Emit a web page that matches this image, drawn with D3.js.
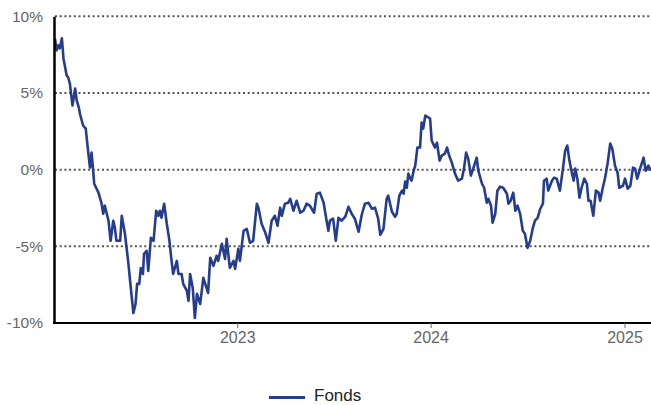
<!DOCTYPE html>
<html lang="de">
<head>
<meta charset="utf-8">
<title>Fonds</title>
<script src="https://cdn.jsdelivr.net/npm/d3@7"></script>
<style>
  html, body { margin: 0; padding: 0; background: #fff; }
  #graph { width: 651px; height: 405px; }
  svg { display: block; }
</style>
</head>
<body>
<div id="graph"></div>
<script>
// performance of the fund in %
const dates = [
  '2022-01-22', '2022-01-25', '2022-01-28', '2022-01-31', '2022-02-04', '2022-02-07', '2022-02-13', '2022-02-16', '2022-02-19', '2022-02-24',
  '2022-03-01', '2022-03-04', '2022-03-08', '2022-03-10', '2022-03-16', '2022-03-21', '2022-03-26', '2022-03-29', '2022-04-01', '2022-04-04',
  '2022-04-06', '2022-04-14', '2022-04-20', '2022-04-23', '2022-04-26', '2022-05-03', '2022-05-07', '2022-05-12', '2022-05-15', '2022-05-18',
  '2022-05-25', '2022-05-28', '2022-06-03', '2022-06-09', '2022-06-16', '2022-06-19', '2022-06-23', '2022-06-26', '2022-06-30', '2022-07-03',
  '2022-07-07', '2022-07-09', '2022-07-14', '2022-07-17', '2022-07-22', '2022-07-27', '2022-08-01', '2022-08-05', '2022-08-08', '2022-08-11',
  '2022-08-16', '2022-08-21', '2022-08-26', '2022-08-30', '2022-09-02', '2022-09-09', '2022-09-12', '2022-09-18', '2022-09-21', '2022-09-28',
  '2022-10-01', '2022-10-04', '2022-10-09', '2022-10-13', '2022-10-17', '2022-10-23', '2022-10-29', '2022-11-07', '2022-11-11', '2022-11-17',
  '2022-11-23', '2022-11-26', '2022-12-03', '2022-12-09', '2022-12-12', '2022-12-18', '2022-12-25', '2022-12-28',
  '2023-01-03', '2023-01-06', '2023-01-13', '2023-01-19', '2023-01-25', '2023-01-31', '2023-02-07', '2023-02-10', '2023-02-16', '2023-02-23',
  '2023-03-01', '2023-03-07', '2023-03-13', '2023-03-18', '2023-03-23', '2023-03-26', '2023-04-01', '2023-04-07', '2023-04-11', '2023-04-17',
  '2023-04-23', '2023-04-30', '2023-05-06', '2023-05-12', '2023-05-18', '2023-05-26', '2023-05-31', '2023-06-06', '2023-06-13', '2023-06-19',
  '2023-06-22', '2023-06-25', '2023-07-01', '2023-07-06', '2023-07-11', '2023-07-17', '2023-07-24', '2023-07-30', '2023-08-05', '2023-08-11',
  '2023-08-18', '2023-08-24', '2023-08-30', '2023-09-06', '2023-09-12', '2023-09-18', '2023-09-24', '2023-09-28', '2023-10-04', '2023-10-10',
  '2023-10-13', '2023-10-20', '2023-10-26', '2023-10-29', '2023-11-03', '2023-11-08', '2023-11-11', '2023-11-14', '2023-11-17', '2023-11-20',
  '2023-11-23', '2023-11-26', '2023-11-30', '2023-12-03', '2023-12-07', '2023-12-12', '2023-12-15', '2023-12-18', '2023-12-22', '2023-12-28',
  '2023-12-31',
  '2024-01-03', '2024-01-09', '2024-01-13', '2024-01-18', '2024-01-22', '2024-01-28', '2024-02-01', '2024-02-05', '2024-02-10', '2024-02-16',
  '2024-02-22', '2024-02-29', '2024-03-04', '2024-03-08', '2024-03-12', '2024-03-17', '2024-03-22', '2024-03-28', '2024-03-31', '2024-04-07',
  '2024-04-11', '2024-04-16', '2024-04-19', '2024-04-24', '2024-04-27', '2024-05-02', '2024-05-06', '2024-05-11', '2024-05-17', '2024-05-24',
  '2024-05-27', '2024-05-31', '2024-06-05', '2024-06-09', '2024-06-13', '2024-06-18', '2024-06-23', '2024-06-27', '2024-07-02', '2024-07-07',
  '2024-07-12', '2024-07-16', '2024-07-21', '2024-07-26', '2024-07-31', '2024-08-02', '2024-08-07', '2024-08-10', '2024-08-17', '2024-08-21',
  '2024-08-26', '2024-09-01', '2024-09-07', '2024-09-11', '2024-09-15', '2024-09-19', '2024-09-24', '2024-09-27', '2024-09-30', '2024-10-04',
  '2024-10-08', '2024-10-12', '2024-10-17', '2024-10-22', '2024-10-25', '2024-10-29', '2024-11-03', '2024-11-08', '2024-11-13', '2024-11-16',
  '2024-11-21', '2024-11-25', '2024-11-30', '2024-12-05', '2024-12-09', '2024-12-14', '2024-12-19', '2024-12-22', '2024-12-29',
  '2025-01-02', '2025-01-07', '2025-01-12', '2025-01-17', '2025-01-21', '2025-01-25', '2025-01-31', '2025-02-06', '2025-02-10', '2025-02-15',
  '2025-02-20',
];
const values = [
  8.54, 7.78, 8.10, 7.91, 8.56, 7.25, 6.14, 6.01, 5.62, 4.18,
  5.29, 4.51, 4.05, 3.66, 2.88, 2.68, 1.05, 0.13, 1.11, -0.07,
  -0.92, -1.50, -2.22, -2.88, -2.35, -3.33, -4.64, -3.33, -3.79, -4.64,
  -4.64, -3.01, -4.18, -5.95, -8.37, -9.35, -8.76, -7.45, -7.45, -6.41,
  -6.80, -5.49, -5.29, -6.60, -4.44, -4.64, -2.68, -3.01, -2.68, -3.14,
  -2.22, -3.53, -4.64, -5.95, -6.80, -5.95, -6.80, -6.80, -7.45, -7.91,
  -8.56, -6.80, -7.71, -9.67, -8.10, -8.76, -7.06, -8.04, -5.75, -6.27,
  -5.62, -5.95, -4.84, -5.82, -4.51, -6.41, -5.95, -6.47,
  -5.16, -5.95, -3.99, -3.86, -4.77, -4.64, -2.22, -2.48, -3.53, -4.12,
  -4.77, -3.33, -3.01, -3.66, -2.48, -3.01, -2.22, -2.16, -1.90, -2.68,
  -2.03, -2.81, -2.68, -2.22, -2.35, -2.81, -1.57, -1.50, -2.16, -3.40,
  -3.99, -3.33, -3.20, -4.64, -3.14, -3.33, -3.07, -2.42, -2.88, -3.20,
  -4.05, -2.94, -2.22, -2.16, -2.55, -2.48, -3.20, -4.25, -3.86, -1.90,
  -1.70, -2.75, -3.07, -2.88, -1.70, -1.37, -1.57, -0.78, -1.18, -0.26,
  -0.52, -0.72, -0.07, 0.26, 1.44, 1.44, 3.07, 2.68, 3.53, 3.40,
  3.33,
  1.90, 1.44, 1.76, 0.59, 0.92, 1.05, 1.44, 0.92, 0.46, -0.26,
  -0.72, -0.59, 0.07, 1.11, 0.72, -0.39, 0.13, 0.78, -0.07, -0.92,
  -1.18, -2.16, -1.90, -2.35, -3.46, -2.88, -1.37, -1.11, -1.18, -1.57,
  -2.22, -2.03, -1.50, -2.68, -2.35, -2.88, -3.99, -4.18, -5.10, -4.64,
  -3.79, -3.33, -3.14, -2.55, -2.22, -0.72, -0.59, -1.37, -0.72, -0.52,
  -0.59, -1.37, 0.13, 1.24, 1.57, 0.59, -0.26, -0.72, 0.07, -0.59,
  -1.83, -1.18, -0.59, -0.92, -2.03, -2.03, -3.01, -1.37, -1.50, -2.03,
  -1.18, -0.59, 0.39, 1.70, 1.37, 0.26, -0.20, -1.18, -1.05,
  -0.59, -1.24, -1.05, 0.13, 0.07, -0.59, 0.13, 0.78, -0.07, 0.26,
  -0.07,
];
const yTicks = [10, 5, 0, -5, -10];
const gridTicks = [10, 5, 0, -5];
const xTicks = ['2023-01-01', '2024-01-01', '2025-01-01'];
const seriesName = 'Fonds';

class Graph {
  constructor() {
    this.margin = {
      x: { start: 55, end: 0 },
      y: { start: 16.3, end: 82 },
    };
    this.colors = {
      line: '#253d8c',
      axis: '#000',
      grid: '#555',
      label: '#666',
      legend: '#222',
    };
    this.font = "'Liberation Sans', Arial, sans-serif";
    this.parseDate = d3.timeParse('%Y-%m-%d');

    this.graphElement = document.querySelector('#graph');
    this.width = this.graphElement.offsetWidth;
    this.height = this.graphElement.offsetHeight;
    this.widthSvg = this.width - this.margin.x.start - this.margin.x.end;
    this.heightSvg = this.height - this.margin.y.start - this.margin.y.end;

    if (dates.length !== values.length) console.warn('length mismatch', dates.length, values.length);
    this.data = dates.map((d, i) => ({ date: this.parseDate(d), value: values[i] }));

    this.initSvg();
    this.draw();
  }

  initSvg() {
    this.root = d3.select('#graph')
      .append('svg')
      .attr('width', this.width)
      .attr('height', this.height)
      .style('font-family', this.font);
    this.svg = this.root.append('g')
      .attr('transform', `translate(${this.margin.x.start}, ${this.margin.y.start})`);
  }

  draw() {
    const {
      data, svg, widthSvg, heightSvg, colors,
    } = this;

    this.x = d3.scaleTime()
      .domain(d3.extent(data, (d) => d.date))
      .range([0, widthSvg]);
    this.y = d3.scaleLinear()
      .domain([-10, 10])
      .range([heightSvg, 0]);
    const { x, y } = this;

    // dotted grid
    svg.append('g')
      .selectAll('line')
      .data(gridTicks)
      .join('line')
      .attr('x1', 0)
      .attr('x2', widthSvg)
      .attr('y1', (d) => y(d))
      .attr('y2', (d) => y(d))
      .attr('stroke', colors.grid)
      .attr('stroke-width', 2)
      .attr('stroke-dasharray', '2,2.7');

    // the fund line
    svg.append('path')
      .datum(data)
      .attr('fill', 'none')
      .attr('stroke', colors.line)
      .attr('stroke-width', 2.6)
      .attr('stroke-linejoin', 'round')
      .attr('d', d3.line()
        .x((d) => x(d.date))
        .y((d) => y(d.value)));

    // Add X axis
    const xAxis = svg.append('g')
      .attr('transform', `translate(0,${heightSvg})`)
      .call(d3.axisBottom(x)
        .tickValues(xTicks.map(this.parseDate))
        .tickFormat(d3.timeFormat('%Y'))
        .tickSize(5)
        .tickSizeOuter(0)
        .tickPadding(3.5));
    xAxis.select('.domain')
      .attr('d', `M-2,0H${widthSvg}`)
      .attr('stroke', colors.axis)
      .attr('stroke-width', 2.2);
    xAxis.selectAll('.tick line').attr('stroke', colors.label);
    xAxis.selectAll('.tick text')
      .attr('fill', colors.label)
      .style('font-family', this.font)
      .style('font-size', '16px');

    // Add Y axis
    const yAxis = svg.append('g')
      .attr('transform', 'translate(-1,0)')
      .call(d3.axisLeft(y)
        .tickValues(yTicks)
        .tickFormat((d) => `${d}%`)
        .tickSize(0)
        .tickPadding(11));
    yAxis.select('.domain')
      .attr('stroke', colors.axis)
      .attr('stroke-width', 2.5);
    yAxis.selectAll('.tick text')
      .attr('fill', colors.label)
      .style('font-family', this.font)
      .style('font-size', '15.5px');

    this.drawLegend();
  }

  drawLegend() {
    const { root, colors } = this;
    const legend = root.append('g')
      .attr('transform', 'translate(269, 397.5)');
    legend.append('line')
      .attr('x1', 0)
      .attr('x2', 36)
      .attr('stroke', colors.line)
      .attr('stroke-width', 3);
    legend.append('text')
      .attr('x', 45)
      .attr('y', 3.5)
      .attr('fill', colors.legend)
      .style('font-size', '17px')
      .text(seriesName);
  }
}

new Graph();
</script>
</body>
</html>
